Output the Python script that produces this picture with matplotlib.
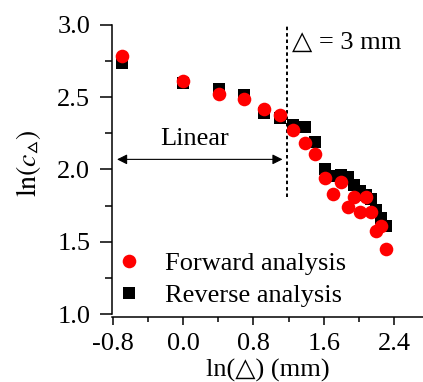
import numpy as np
import matplotlib
matplotlib.use("Agg")
import matplotlib.pyplot as plt
from matplotlib.ticker import MultipleLocator

plt.rcParams['font.family'] = ['Liberation Serif', 'DejaVu Sans']
plt.rcParams['mathtext.fontset'] = 'stix'

# ln(delta), delta = 0.5 ... 10 mm
ln_delta = [-0.693, 0.0, 0.405, 0.693, 0.916, 1.099, 1.253, 1.386, 1.504, 1.609,
            1.705, 1.792, 1.872, 1.946, 2.015, 2.079, 2.140, 2.197, 2.251, 2.303]
forward = [2.785, 2.61, 2.52, 2.486, 2.42, 2.377, 2.273, 2.18, 2.107, 1.943,
           1.83, 1.916, 1.738, 1.812, 1.706, 1.808, 1.706, 1.577, 1.61, 1.448]
reverse = [2.739, 2.60, 2.56, 2.516, 2.389, 2.354, 2.308, 2.292, 2.19, 2.0,
           1.955, 1.962, 1.95, 1.89, 1.85, 1.825, 1.794, 1.72, 1.664, 1.607]

x_cut = 1.18          # vertical marker for delta = 3 mm
cut_bottom = 1.81
linear_span = (-0.75, 1.13)
linear_y = 2.07

FS = 19

fig = plt.figure(figsize=(4.23, 3.82), dpi=100)
ax = fig.add_axes([0.264, 0.178, 0.736, 0.7566])

ax.plot(ln_delta, reverse, 's', color='black', ms=9.2, mew=0, label='Reverse analysis', zorder=3)
ax.plot(ln_delta, forward, 'o', color='red', ms=9.8, mew=0, label='Forward analysis', zorder=4)

ax.plot([x_cut, x_cut], [cut_bottom, 3.0], color='black', lw=1.4,
        linestyle=(0, (1.8, 1.5)), zorder=2)
ax.text(x_cut + 0.06, 2.875, '△ = 3 mm', fontsize=FS, va='center', ha='left')

ax.annotate('', xy=(linear_span[0], linear_y), xytext=(linear_span[1], linear_y),
            arrowprops=dict(arrowstyle='<|-|>', color='black', lw=0.8,
                            mutation_scale=15, shrinkA=0, shrinkB=0))
ax.text(0.135, 2.209, 'Linear', fontsize=FS, ha='center', va='center')

ax.set_xlim(-0.811, 2.726)
ax.set_ylim(1.0, 3.0)
ax.xaxis.set_minor_locator(MultipleLocator(0.4))
ax.yaxis.set_minor_locator(MultipleLocator(0.25))
ax.set_xticks([-0.8, 0.0, 0.8, 1.6, 2.4])
ax.set_xticklabels(['-0.8', '0.0', '0.8', '1.6', '2.4'])
ax.set_yticks([1.0, 1.5, 2.0, 2.5, 3.0])
ax.set_yticklabels(['1.0', '1.5', '2.0', '2.5', '3.0'])

for s in ['top', 'right']:
    ax.spines[s].set_visible(False)
ax.spines['left'].set_linewidth(1.1)
ax.spines['bottom'].set_linewidth(1.1)
ax.spines['bottom'].set_position(('outward', 2))

ax.tick_params(axis='both', which='major', direction='out', width=1.1, labelsize=FS)
ax.tick_params(axis='y', which='major', length=8.4, pad=7)
ax.tick_params(axis='y', which='minor', length=4.8, width=1.1)
ax.tick_params(axis='x', which='major', length=5.8, pad=6)
ax.tick_params(axis='x', which='minor', length=3.6, width=1.1)

ax.set_xlabel('ln(△) (mm)', fontsize=FS, labelpad=3)
ax.set_ylabel(r'$\mathrm{ln}(c_{▵})$', fontsize=20)
ax.yaxis.set_label_coords(-0.222, 0.522)

h, l = ax.get_legend_handles_labels()
ax.legend(h[::-1], l[::-1], loc='lower left', bbox_to_anchor=(0.013, 0.025),
          frameon=False, fontsize=FS, handlelength=1.0, handletextpad=0.85,
          borderpad=0, borderaxespad=0, labelspacing=0.3)

fig.savefig('out.png', dpi=100)
